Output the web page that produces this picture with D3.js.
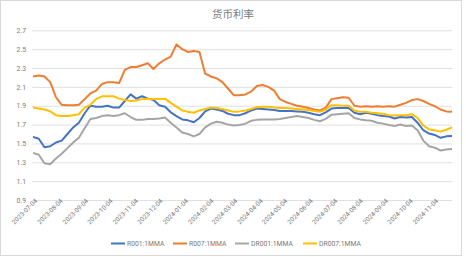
<!DOCTYPE html>
<html><head><meta charset="utf-8">
<script src="https://cdn.jsdelivr.net/npm/d3@7/dist/d3.min.js"></script>
<style>
html,body{margin:0;padding:0;background:#fff;}
svg{display:block;font-family:"Noto Sans CJK SC","Noto Sans",sans-serif;}
</style></head>
<body><svg id="c" width="466" height="257"></svg>
<script>
const title = "货币利率";
const dates = ["2023-07-04","2023-07-11","2023-07-18","2023-07-25","2023-08-01","2023-08-08","2023-08-15","2023-08-22","2023-08-29","2023-09-05","2023-09-12","2023-09-19","2023-09-26","2023-10-03","2023-10-10","2023-10-17","2023-10-24","2023-10-31","2023-11-07","2023-11-14","2023-11-21","2023-11-28","2023-12-05","2023-12-12","2023-12-19","2023-12-26",
"2024-01-02","2024-01-09","2024-01-16","2024-01-23","2024-01-30","2024-02-06","2024-02-13","2024-02-20","2024-02-27","2024-03-05","2024-03-12","2024-03-19","2024-03-26","2024-04-02","2024-04-09","2024-04-16","2024-04-23","2024-04-30","2024-05-07","2024-05-14","2024-05-21","2024-05-28","2024-06-04","2024-06-11","2024-06-18","2024-06-25","2024-07-02","2024-07-09","2024-07-16","2024-07-23","2024-07-30","2024-08-06","2024-08-13","2024-08-20","2024-08-27","2024-09-03","2024-09-10","2024-09-17","2024-09-24","2024-10-01","2024-10-08","2024-10-15","2024-10-22","2024-10-29","2024-11-05","2024-11-12","2024-11-19","2024-11-26"];
const R001 = [1.57,1.55,1.46,1.47,1.51,1.53,1.60,1.67,1.72,1.82,1.90,1.89,1.89,1.90,1.88,1.88,1.95,2.02,1.975,2.00,1.975,1.96,1.905,1.89,1.83,1.79,
1.755,1.745,1.725,1.77,1.84,1.87,1.86,1.845,1.815,1.80,1.80,1.82,1.85,1.87,1.865,1.86,1.855,1.845,1.845,1.845,1.84,1.835,1.825,1.81,1.80,1.83,1.87,1.875,1.875,1.875,1.825,1.81,1.825,1.815,1.80,1.79,1.785,1.765,1.78,1.775,1.78,1.72,1.64,1.605,1.59,1.56,1.575,1.58];
const R007 = [2.21,2.22,2.21,2.15,1.99,1.91,1.905,1.905,1.91,1.97,2.03,2.06,2.13,2.15,2.15,2.14,2.28,2.31,2.31,2.33,2.35,2.29,2.35,2.39,2.42,2.55,
2.50,2.47,2.48,2.47,2.24,2.21,2.19,2.15,2.08,2.01,2.01,2.02,2.05,2.11,2.12,2.10,2.06,1.97,1.94,1.92,1.90,1.89,1.875,1.86,1.85,1.88,1.97,1.98,1.99,1.985,1.90,1.89,1.895,1.89,1.895,1.89,1.895,1.89,1.91,1.93,1.96,1.97,1.95,1.92,1.895,1.86,1.84,1.835];
const DR001 = [1.40,1.38,1.29,1.28,1.34,1.39,1.45,1.51,1.56,1.66,1.76,1.77,1.79,1.80,1.79,1.80,1.82,1.78,1.75,1.75,1.76,1.76,1.765,1.775,1.72,1.67,
1.615,1.60,1.575,1.60,1.67,1.71,1.73,1.72,1.70,1.69,1.695,1.71,1.74,1.75,1.755,1.755,1.755,1.76,1.77,1.78,1.79,1.78,1.77,1.75,1.735,1.76,1.805,1.81,1.815,1.82,1.77,1.755,1.745,1.74,1.72,1.71,1.695,1.685,1.70,1.685,1.69,1.64,1.53,1.47,1.455,1.425,1.435,1.44];
const DR007 = [1.88,1.87,1.86,1.84,1.80,1.79,1.79,1.80,1.81,1.88,1.91,1.97,2.00,2.00,2.00,1.975,1.96,1.95,1.955,1.97,1.975,1.97,1.97,1.975,1.93,1.89,
1.85,1.835,1.825,1.85,1.865,1.88,1.875,1.865,1.85,1.835,1.84,1.85,1.865,1.885,1.89,1.89,1.88,1.875,1.875,1.87,1.865,1.86,1.855,1.845,1.835,1.86,1.905,1.905,1.90,1.90,1.85,1.835,1.835,1.825,1.82,1.815,1.80,1.795,1.80,1.80,1.81,1.77,1.69,1.65,1.64,1.625,1.645,1.67];
const tickLabels = ["2023-07-04","2023-08-04","2023-09-04","2023-10-04","2023-11-04","2023-12-04","2024-01-04","2024-02-04","2024-03-04","2024-04-04","2024-05-04","2024-06-04","2024-07-04","2024-08-04","2024-09-04","2024-10-04","2024-11-04"];
const yTicks = [0.9,1.1,1.3,1.5,1.7,1.9,2.1,2.3,2.5,2.7];
const seriesNames = ["R001:1MMA","R007:1MMA","DR001:1MMA","DR007:1MMA"];
const colors = ["#4472C4","#ED7D31","#A5A5A5","#FFC000"];
const seriesValues = [R001, R007, DR001, DR007];

const parse = d3.timeParse("%Y-%m-%d");
const svg = d3.select("#c");
const W = 466, H = 257;
const textCol = "#7a7a7a";
svg.append("rect").attr("x",0.5).attr("y",0.5).attr("width",W-5).attr("height",H-2)
  .attr("fill","#fff").attr("stroke","#d9d9d9");

const x = d3.scaleTime().domain([parse(dates[0]), parse(dates[dates.length-1])]).range([33, 452]);
const y = d3.scaleLinear().domain([0.9, 2.7]).range([200, 30.3]);

svg.append("text").attr("x",233).attr("y",17.5).attr("text-anchor","middle")
  .attr("font-size",10.5).attr("fill",textCol).text(title);

// grid + y axis
const ya = svg.append("g").attr("transform","translate(32,0)")
  .call(d3.axisLeft(y).tickValues(yTicks).tickSize(-420).tickFormat(d3.format(".1f")));
ya.select(".domain").remove();
ya.selectAll(".tick line").attr("stroke","#e0e0e0").attr("stroke-width",1);
ya.selectAll(".tick text").attr("fill",textCol).attr("font-size",6.8).attr("x",-6)
  .attr("font-family","Roboto, 'Noto Sans', sans-serif");

// x axis
const xa = svg.append("g").attr("transform","translate(0,200)")
  .call(d3.axisBottom(x).tickValues(tickLabels.map(parse)).tickSize(0).tickFormat(d3.timeFormat("%Y-%m-%d")));
xa.select(".domain").remove();
xa.selectAll(".tick text").attr("fill",textCol).attr("font-size",6.5)
  .attr("font-family","Roboto, 'Noto Sans', sans-serif")
  .attr("text-anchor","end").attr("dy",0).attr("y",4).attr("x",2)
  .attr("transform","rotate(-45)");

// lines
const line = d3.line().x((d,i)=>x(parse(dates[i]))).y(d=>y(d)).curve(d3.curveLinear);
seriesValues.forEach((vals,si)=>{
  svg.append("path").datum(vals).attr("d",line).attr("fill","none")
    .attr("stroke",colors[si]).attr("stroke-width",2).attr("stroke-linejoin","round");
});

// legend
const legX = [111, 173, 235, 303];
const lg = svg.append("g");
seriesNames.forEach((n,i)=>{
  lg.append("line").attr("x1",legX[i]).attr("x2",legX[i]+14).attr("y1",243.5).attr("y2",243.5)
    .attr("stroke",colors[i]).attr("stroke-width",2);
  lg.append("text").attr("x",legX[i]+16).attr("y",246).attr("font-size",6.8).attr("fill",textCol)
    .attr("font-family","Roboto, 'Noto Sans', sans-serif").text(n);
});
</script></body></html>
